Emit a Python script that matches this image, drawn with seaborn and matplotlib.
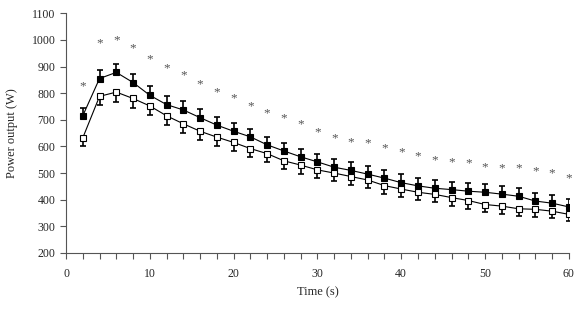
import numpy as np
import pandas as pd
import matplotlib
matplotlib.use('Agg')
import matplotlib.pyplot as plt
import seaborn as sns
from matplotlib.ticker import MultipleLocator

sns.set_style('ticks')
plt.rcParams['font.family'] = ['Liberation Serif', 'DejaVu Serif']

# data
time_s = list(range(2, 61, 2))
filled = [715, 855, 878, 840, 792, 757, 737, 708, 680, 657, 636, 606, 583, 561, 542,
          522, 510, 496, 481, 464, 452, 443, 438, 432, 428, 421, 413, 395, 387, 373]
filled_err = [30, 32, 33, 32, 36, 34, 33, 32, 31, 31, 31, 31, 31, 31, 31,
              31, 31, 31, 31, 31, 31, 30, 30, 30, 30, 30, 30, 30, 30, 30]
open_ = [632, 788, 804, 780, 752, 715, 685, 657, 635, 615, 592, 573, 546, 530, 512,
         500, 487, 474, 453, 440, 428, 420, 408, 397, 382, 376, 366, 364, 357, 345]
open_err = [30, 34, 36, 36, 34, 34, 34, 33, 33, 33, 32, 32, 32, 32, 32,
            31, 31, 31, 31, 30, 30, 30, 30, 30, 28, 28, 28, 28, 26, 26]
star_y = [825, 986, 1000, 968, 926, 893, 867, 833, 803, 781, 751, 724, 705, 683, 653,
          631, 616, 612, 593, 578, 563, 548, 541, 537, 522, 518, 518, 507, 500, 481]

df = pd.DataFrame({'time': time_s, 'filled': filled, 'open': open_})

fig = plt.figure(figsize=(5.8, 3.13), dpi=100)
ax = fig.add_axes([0.1138, 0.1917, 0.867, 0.766])

# error bars (one-sided: filled up, open down)
ax.errorbar(df['time'], df['filled'], yerr=[np.zeros(len(filled)), filled_err],
            fmt='none', ecolor='black', elinewidth=1.2, capsize=2, capthick=1.2, zorder=2)
ax.errorbar(df['time'], df['open'], yerr=[open_err, np.zeros(len(open_))],
            fmt='none', ecolor='black', elinewidth=1.2, capsize=2, capthick=1.2, zorder=2)

sns.lineplot(data=df, x='time', y='filled', ax=ax, color='black', lw=0.8,
             marker='s', markersize=4.6, markerfacecolor='black',
             markeredgecolor='black', markeredgewidth=0.8, zorder=3)
sns.lineplot(data=df, x='time', y='open', ax=ax, color='black', lw=0.8,
             marker='s', markersize=4.6, markerfacecolor='white',
             markeredgecolor='black', markeredgewidth=0.8, zorder=3)

for t, y in zip(time_s, star_y):
    ax.text(t, y, '*', ha='center', va='center', fontsize=9.5, color='#555555')

ax.set_xlim(0, 60)
ax.set_ylim(200, 1100)
ax.xaxis.set_major_locator(MultipleLocator(10))
ax.xaxis.set_minor_locator(MultipleLocator(2))
ax.yaxis.set_major_locator(MultipleLocator(100))
ax.tick_params(axis='both', which='major', labelsize=8.5, length=4, width=0.8, color='#555555')
ax.tick_params(axis='x', which='minor', length=4, width=0.8, color='#555555')
ax.tick_params(axis='x', which='major', pad=7)
ax.set_xlabel('Time (s)', fontsize=9, labelpad=4)
ax.set_ylabel('Power output (W)', fontsize=9, labelpad=10)
for s in ['left', 'bottom']:
    ax.spines[s].set_color('#555555')
    ax.spines[s].set_linewidth(0.8)
sns.despine(ax=ax)

fig.savefig('out.png', dpi=100)
